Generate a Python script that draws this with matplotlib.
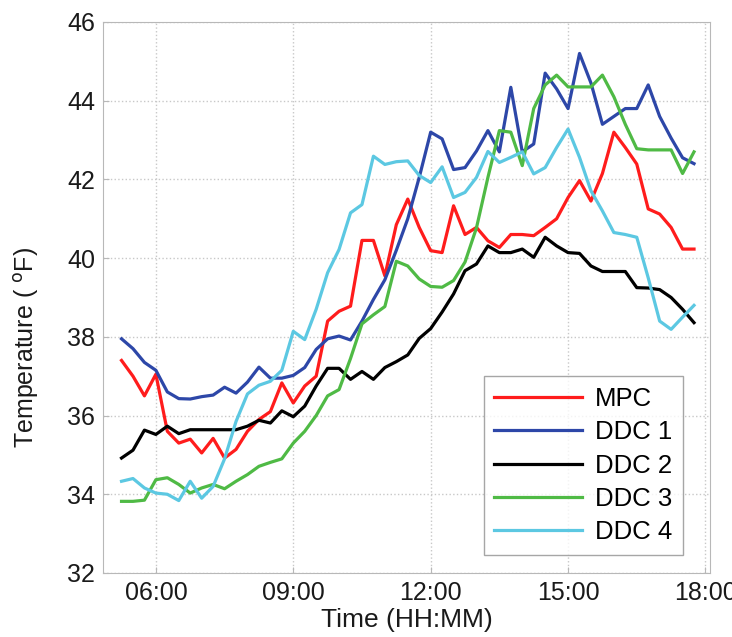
import numpy as np
import pandas as pd
import matplotlib
matplotlib.use("Agg")
import matplotlib.pyplot as plt
import matplotlib.dates as mdates

# 15-minute samples from 05:15 to 17:45
times = pd.date_range("2013-01-01 05:15", "2013-01-01 17:45", freq="15min")

mpc = [37.4, 37.0, 36.5, 37.05, 35.6, 35.3, 35.4, 35.05, 35.42, 34.92,
       35.14, 35.6, 35.9, 36.1, 36.83, 36.32, 36.75, 37.0, 38.4, 38.65,
       38.78, 40.45, 40.45, 39.55, 40.85, 41.5, 40.78, 40.19, 40.14, 41.33,
       40.6, 40.78, 40.44, 40.27, 40.6, 40.6, 40.57, 40.78, 41.0, 41.54,
       41.97, 41.45, 42.15, 43.2, 42.81, 42.39, 41.25, 41.12, 40.78, 40.23,
       40.23]
ddc1 = [37.95, 37.7, 37.35, 37.15, 36.6, 36.43, 36.42, 36.48, 36.52, 36.72,
        36.57, 36.85, 37.23, 36.95, 36.95, 37.02, 37.22, 37.68, 37.95, 38.02,
        37.92, 38.4, 38.95, 39.45, 40.2, 41.0, 42.05, 43.2, 43.03, 42.25,
        42.3, 42.72, 43.24, 42.7, 44.34, 42.7, 42.9, 44.7, 44.3, 43.8,
        45.2, 44.45, 43.4, 43.6, 43.8, 43.8, 44.4, 43.6, 43.05, 42.55,
        42.4]
ddc2 = [34.92, 35.12, 35.63, 35.52, 35.73, 35.54, 35.64, 35.64, 35.64, 35.64,
        35.64, 35.73, 35.88, 35.81, 36.12, 35.97, 36.24, 36.75, 37.2, 37.2,
        36.92, 37.12, 36.92, 37.22, 37.37, 37.54, 37.96, 38.21, 38.63, 39.09,
        39.68, 39.85, 40.31, 40.14, 40.14, 40.23, 40.02, 40.53, 40.31, 40.14,
        40.12, 39.8, 39.66, 39.66, 39.66, 39.25, 39.24, 39.2, 39.0, 38.7,
        38.36]
ddc3 = [33.82, 33.82, 33.85, 34.37, 34.42, 34.25, 34.03, 34.16, 34.25, 34.14,
        34.33, 34.5, 34.71, 34.81, 34.9, 35.3, 35.6, 36.0, 36.5, 36.66,
        37.45, 38.33, 38.56, 38.77, 39.92, 39.8, 39.47, 39.28, 39.26, 39.43,
        39.9, 40.77, 42.05, 43.24, 43.2, 42.35, 43.8, 44.4, 44.65, 44.35,
        44.35, 44.35, 44.65, 44.1, 43.4, 42.78, 42.75, 42.75, 42.75, 42.15,
        42.7]
ddc4 = [34.33, 34.4, 34.16, 34.03, 34.0, 33.84, 34.33, 33.9, 34.2, 34.9,
        35.85, 36.55, 36.77, 36.87, 37.15, 38.14, 37.93, 38.7, 39.63, 40.22,
        41.15, 41.36, 42.59, 42.38, 42.45, 42.47, 42.1, 41.92, 42.32, 41.54,
        41.67, 42.05, 42.71, 42.43, 42.56, 42.7, 42.14, 42.3, 42.81, 43.28,
        42.56, 41.71, 41.2, 40.65, 40.6, 40.53, 39.5, 38.4, 38.19, 38.5,
        38.8]

series = [("MPC", mpc, "#ff1c1c"),
          ("DDC 1", ddc1, "#2d47a8"),
          ("DDC 2", ddc2, "#000000"),
          ("DDC 3", ddc3, "#4fba45"),
          ("DDC 4", ddc4, "#5cc8e2")]

plt.rcParams["font.family"] = ["Liberation Sans", "DejaVu Sans"]

fig = plt.figure(figsize=(7.32, 6.37), dpi=100)
ax = fig.add_axes([0.141, 0.1005, 0.829, 0.865])

for name, vals, col in series:
    ax.plot(times, vals, color=col, lw=2.3, label=name)

ax.set_xlim(pd.Timestamp("2013-01-01 04:51"), pd.Timestamp("2013-01-01 18:06"))
ax.set_ylim(32, 46)
ax.set_yticks(np.arange(32, 47, 2))
ax.xaxis.set_major_locator(mdates.HourLocator(byhour=[6, 9, 12, 15, 18]))
ax.xaxis.set_major_formatter(mdates.DateFormatter("%H:%M"))

ax.grid(True, color="#c8c8c8", ls=":", lw=1.0)
for sp in ax.spines.values():
    sp.set_color("#b8b8b8")
ax.tick_params(direction="in", colors="#b8b8b8", labelcolor="#1a1a1a",
               labelsize=18, length=4, pad=6)

ax.set_xlabel("Time (HH:MM)", fontsize=19, color="#1a1a1a", labelpad=2)
ax.set_ylabel("Temperature ( $^{\\mathrm{o}}$F)", fontsize=18, color="#1a1a1a")
ax.yaxis.set_label_coords(-0.102, 0.41)

leg = ax.legend(loc="lower right", bbox_to_anchor=(0.955, 0.033), fontsize=18.5,
                handlelength=3.4, labelspacing=0.36, fancybox=False,
                edgecolor="#909090", borderpad=0.42, handletextpad=0.5,
                borderaxespad=0)
leg.get_frame().set_linewidth(1.0)

fig.savefig("out.png", dpi=100)
